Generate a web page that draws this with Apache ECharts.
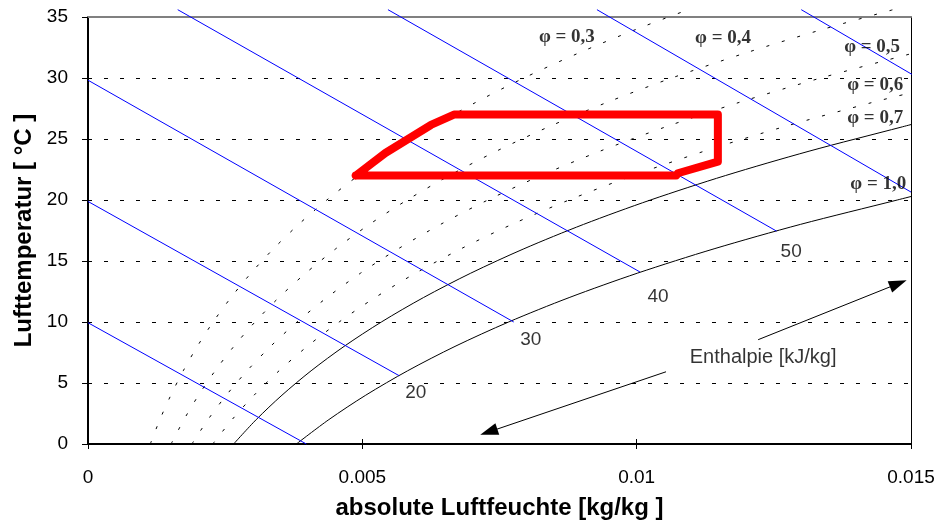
<!DOCTYPE html>
<html>
<head>
<meta charset="utf-8">
<script src="https://cdn.jsdelivr.net/npm/echarts@6/dist/echarts.min.js"></script>
<style>
html, body { margin: 0; padding: 0; background: #fff; }
#chart { width: 937px; height: 523px; }
</style>
</head>
<body>
<div id="chart"></div>
<script>
// Curves of constant relative humidity: [absolute humidity kg/kg, air temperature °C]
const phi03 = [[0.001135,0],[0.001310,2],[0.001510,4],[0.001736,6],[0.001992,8],[0.002280,10],[0.002605,12],[0.002970,14],[0.003380,16],[0.003839,18],[0.004353,20],[0.004926,22],[0.005565,24],[0.006277,26],[0.007067,28],[0.007945,30],[0.008919,32],[0.009997,34],[0.010941,35.6]];
const phi04 = [[0.001514,0],[0.001749,2],[0.002015,4],[0.002317,6],[0.002658,8],[0.003044,10],[0.003478,12],[0.003967,14],[0.004515,16],[0.005129,18],[0.005817,20],[0.006585,22],[0.007442,24],[0.008397,26],[0.009459,28],[0.010639,30],[0.011949,32],[0.013401,34],[0.014674,35.6]];
const phi05 = [[0.001893,0],[0.002187,2],[0.002521,4],[0.002899,6],[0.003327,8],[0.003810,10],[0.004354,12],[0.004966,14],[0.005654,16],[0.006425,18],[0.007288,20],[0.008253,22],[0.009331,24],[0.010532,26],[0.011869,28],[0.013356,30],[0.015008,32],[0.015100,32.1]];
const phi06 = [[0.002273,0],[0.002626,2],[0.003027,4],[0.003482,6],[0.003996,8],[0.004577,10],[0.005232,12],[0.005969,14],[0.006797,16],[0.007726,18],[0.008767,20],[0.009930,22],[0.011231,24],[0.012681,26],[0.014297,28],[0.015100,28.9]];
const phi07 = [[0.002654,0],[0.003066,2],[0.003535,4],[0.004066,6],[0.004667,8],[0.005347,10],[0.006113,12],[0.006975,14],[0.007944,16],[0.009032,18],[0.010252,20],[0.011616,22],[0.013142,24],[0.014845,26],[0.015100,26.3]];
const phi10 = [[0.003798,0],[0.004390,2],[0.005062,4],[0.005825,6],[0.006689,8],[0.007666,10],[0.008769,12],[0.010012,14],[0.011411,16],[0.012984,18],[0.014750,20],[0.015100,20.4]];

// Lines of constant enthalpy (kJ/kg): upper end, lower end
const enthalpyValues = [10, 20, 30, 40, 50, 60, 70];
const enthalpyLines = [
  [[0, 9.94], [0.00398, 0]],
  [[0, 19.88], [0.00567, 5.6]],
  [[0, 29.82], [0.00776, 10.0]],
  [[0.001635, 35.6], [0.01006, 14.1]],
  [[0.005467, 35.6], [0.01255, 17.45]],
  [[0.009276, 35.6], [0.01500, 20.65]],
  [[0.01300, 35.6], [0.01513, 30.0]]
];

// Comfort zone outline
const comfortZone = [[0.00488,22],[0.00542,23.85],[0.00625,26.15],[0.00667,27],[0.01148,27],[0.01148,23.14],[0.01075,22.19],[0.01072,22],[0.00488,22]];

// Annotations placed in data coordinates
const enthalpyTags = [[0.005973,4.18,'20'],[0.008071,8.52,'30'],[0.010389,12.05,'40'],[0.012816,15.74,'50']];
const phiTags = [[0.008728,33.36,'φ = 0,3'],[0.011575,33.28,'φ = 0,4'],[0.014292,32.54,'φ = 0,5'],[0.014348,29.43,'φ = 0,6'],[0.014348,26.72,'φ = 0,7'],[0.014403,21.31,'φ = 1,0']];
const enthalpyCaption = [[0.012305, 7.13, 'Enthalpie [kJ/kg]']];
const enthalpyArrows = [
  [[0.012214, 8.55], [0.014768, 13.15]],
  [[0.010535, 5.92], [0.007305, 0.99]]
];

const chart = echarts.init(document.getElementById('chart'), null, { renderer: 'canvas' });

const sansFont = "'Liberation Sans', Arial, sans-serif";
const serifFont = "'Liberation Serif', 'Times New Roman', serif";

const series = [];

[phi03, phi04, phi05, phi06].forEach(function (curve, i) {
  series.push({
    name: 'phi-dotted-' + i, type: 'line', data: curve, showSymbol: false, smooth: 0.3, clip: false,
    lineStyle: { color: '#000', width: 1, type: [3, 13] }, silent: true, z: 3
  });
});
[phi07, phi10].forEach(function (curve, i) {
  series.push({
    name: 'phi-solid-' + i, type: 'line', data: curve, showSymbol: false, smooth: 0.3, clip: false,
    lineStyle: { color: '#000', width: 1 }, silent: true, z: 3
  });
});
enthalpyLines.forEach(function (seg, i) {
  series.push({
    name: 'h' + enthalpyValues[i], type: 'line', data: seg, showSymbol: false, clip: false,
    lineStyle: { color: '#0000ff', width: 1 }, silent: true, z: 4
  });
});

series.push({
  name: 'enthalpy-tags', type: 'scatter', data: enthalpyTags, symbolSize: 0, silent: true, z: 6,
  label: { show: true, position: 'inside', formatter: function (p) { return p.data[2]; },
    color: '#000', fontFamily: sansFont, fontSize: 19 },
  markLine: {
    silent: true, animation: false,
    symbol: ['none', 'triangle'], symbolSize: [12, 18],
    label: { show: false },
    lineStyle: { color: '#000', width: 1, type: 'solid' },
    data: enthalpyArrows.map(function (a) { return [{ coord: a[0] }, { coord: a[1] }]; })
  }
});
series.push({
  name: 'caption', type: 'scatter', data: enthalpyCaption, symbolSize: 0, silent: true, z: 6,
  label: { show: true, position: 'inside', formatter: function (p) { return p.data[2]; },
    color: '#000', fontFamily: sansFont, fontSize: 20 }
});
series.push({
  name: 'phi-tags', type: 'scatter', data: phiTags, symbolSize: 0, silent: true, z: 6,
  label: { show: true, position: 'inside', formatter: function (p) { return p.data[2]; },
    color: '#000', fontFamily: serifFont, fontSize: 19, fontWeight: 'bold' }
});
series.push({
  name: 'zone', type: 'line', data: comfortZone, showSymbol: false, clip: false, silent: true, z: 8,
  lineStyle: { color: '#ff0000', width: 8, cap: 'round', join: 'round' }
});

chart.setOption({
  animation: false,
  backgroundColor: '#fff',
  grid: { left: 88, right: 26, top: 17, bottom: 79, outerBoundsMode: 'none', containLabel: false },
  xAxis: [
    {
      type: 'value', min: 0, max: 0.015, interval: 0.005, position: 'bottom',
      name: 'absolute Luftfeuchte [kg/kg ]', nameLocation: 'middle', nameGap: 52,
      nameTextStyle: { color: '#000', fontFamily: sansFont, fontSize: 24, fontWeight: 'bold' },
      axisLine: { onZero: false, lineStyle: { color: '#000', width: 2 } },
      axisTick: { show: true, inside: false, length: 5, lineStyle: { color: '#000', width: 1 } },
      axisLabel: { color: '#000', fontFamily: sansFont, fontSize: 19, margin: 24 },
      splitLine: { show: false }
    },
    {
      type: 'value', min: 0, max: 0.015, interval: 0.005, position: 'top',
      axisLine: { onZero: false, lineStyle: { color: '#808080', width: 2 } },
      axisTick: { show: false }, axisLabel: { show: false }, splitLine: { show: false }
    },
    {
      type: 'value', min: 0, max: 0.015, interval: 0.005, position: 'bottom',
      axisLine: { show: false },
      axisTick: { show: true, inside: true, length: 5, lineStyle: { color: '#000', width: 1 } },
      axisLabel: { show: false }, splitLine: { show: false }
    }
  ],
  yAxis: [
    {
      type: 'value', min: 0, max: 35, interval: 5, position: 'left',
      name: 'Lufttemperatur [ °C ]', nameLocation: 'middle', nameGap: 48, nameRotate: 90,
      nameTextStyle: { color: '#000', fontFamily: sansFont, fontSize: 24, fontWeight: 'bold' },
      axisLine: { onZero: false, lineStyle: { color: '#000', width: 2 } },
      axisTick: { show: true, inside: false, length: 6, lineStyle: { color: '#000', width: 1 } },
      axisLabel: { color: '#000', fontFamily: sansFont, fontSize: 19, margin: 20 },
      splitLine: { show: true, lineStyle: { color: '#000', width: 1, type: [4, 12] } }
    },
    {
      type: 'value', min: 0, max: 35, interval: 5, position: 'right',
      axisLine: { onZero: false, lineStyle: { color: '#000', width: 1 } },
      axisTick: { show: false }, axisLabel: { show: false }, splitLine: { show: false }
    }
  ],
  series: series
});
</script>
</body>
</html>
